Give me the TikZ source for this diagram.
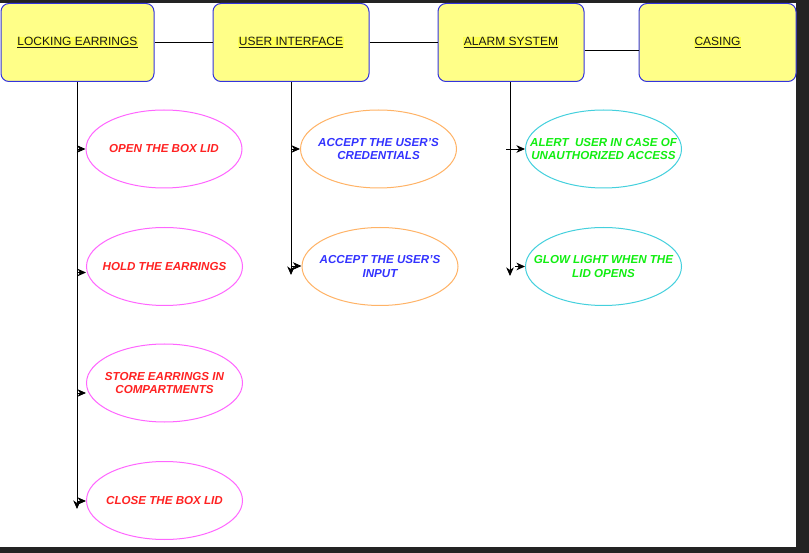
\documentclass[tikz,border=0pt]{standalone}
\usepackage{fontspec}
\setmainfont{Liberation Sans}
\usetikzlibrary{shapes.geometric,arrows.meta}
\definecolor{frame}{HTML}{232323}
\definecolor{boxfill}{HTML}{FFFF88}
\definecolor{boxline}{HTML}{3333DD}
\definecolor{hl}{HTML}{FFFF55}
\definecolor{pinkline}{HTML}{FF66FF}
\definecolor{redtext}{HTML}{FF2222}
\definecolor{orangeline}{HTML}{FFB366}
\definecolor{bluetext}{HTML}{3333FF}
\definecolor{cyanline}{HTML}{44D0DD}
\definecolor{greentext}{HTML}{11EE11}
\setlength{\fboxsep}{0.6pt}
\newcommand{\boxlabel}[1]{\colorbox{hl}{\underline{#1}}}
\tikzset{
  topbox/.style={draw=boxline, fill=boxfill, line width=1pt, rounded corners=8pt,
    minimum height=78pt, inner sep=0pt, text=black!90,
    font=\fontsize{12}{14}\selectfont},
  oval/.style={ellipse, line width=1pt, minimum width=156pt, minimum height=78pt,
    inner sep=0pt},
  ovaltext/.style={align=center, inner sep=0pt, font=\fontsize{11.6}{13.3}\selectfont\bfseries\itshape},
  pinkoval/.style={oval, draw=pinkline, label={[ovaltext, text=redtext]center:#1}},
  orangeoval/.style={oval, draw=orangeline, label={[ovaltext, text=bluetext]center:#1}},
  cyanoval/.style={oval, draw=cyanline, label={[ovaltext, text=greentext]center:#1}},
  link/.style={draw=black, line width=0.9pt},
  arr/.style={link, -{Stealth[length=8.5pt,width=7.5pt,inset=2.5pt]}}
}
\begin{document}
\begin{tikzpicture}[x=1pt,y=-1pt]
% screenshot frame
\fill[frame] (0,0) rectangle (809,553);
\fill[white] (0,3) rectangle (796,547);
\useasboundingbox (0,0) rectangle (809,553);

% top boxes
\node[topbox, minimum width=153pt] (LE) at (77.5,42.5) {\boxlabel{LOCKING EARRINGS}};
\node[topbox, minimum width=156pt] (UI) at (291,42.5) {\boxlabel{USER INTERFACE}};
\node[topbox, minimum width=146pt] (AS) at (511,42.5) {\boxlabel{ALARM SYSTEM}};
\node[topbox, minimum width=157pt] (CS) at (717.5,42.5) {\boxlabel{CASING}};

% links between top boxes
\draw[link] (LE.east) -- (UI.west);
\draw[link] (UI.east) -- (AS.west);
\draw[link] ([yshift=-7.5pt]AS.east) -- ([yshift=-7.5pt]CS.west);

% ellipses: locking earrings
\node[pinkoval={OPEN THE BOX LID}] (E1) at (164,149) {};
\node[pinkoval={HOLD THE EARRINGS}] (E2) at (164.5,266.5) {};
\node[pinkoval={STORE EARRINGS IN\\COMPARTMENTS}] (E3) at (164.5,383) {};
\node[pinkoval={CLOSE THE BOX LID}] (E4) at (164.5,500.5) {};

% ellipses: user interface
\node[orangeoval={ACCEPT THE USER'S\\CREDENTIALS}] (U1) at (378.5,149) {};
\node[orangeoval={ACCEPT THE USER'S\\INPUT}] (U2) at (380,266.5) {};

% ellipses: alarm system
\node[cyanoval={ALERT \ USER IN CASE OF\\UNAUTHORIZED ACCESS}] (A1) at (603.5,149) {};
\node[cyanoval={GLOW LIGHT WHEN THE\\LID OPENS}] (A2) at (603.5,266.5) {};

% trunk lines
\coordinate (LEend) at (77,509);
\coordinate (UIend) at (291,275);
\coordinate (ASend) at (510,276);
\draw[arr] (LE.south -| LEend) -- (LEend);
\draw[arr] (UI.south -| UIend) -- (UIend);
\draw[arr] (AS.south -| ASend) -- (ASend);

% branch arrows
\coordinate (l1) at (77,149);
\coordinate (l2) at (77,272.5);
\coordinate (l3) at (77,393);
\coordinate (l4) at (77,501);
\draw[arr] (l1) -- (l1 -| E1.west);
\draw[arr] (l2) -- (l2 -| E2.west);
\draw[arr] (l3) -- (l3 -| E3.west);
\draw[arr] (l4) -- (l4 -| E4.west);

\coordinate (u1) at (291,149);
\coordinate (u2) at (291,266);
\draw[arr] (u1) -- (u1 -| U1.west);
\draw[arr] (u2) -- (u2 -| U2.west);

\coordinate (s1) at (506,149);
\coordinate (s2) at (515,266.5);
\draw[arr] (s1) -- (s1 -| A1.west);
\draw[arr] (s2) -- (s2 -| A2.west);
\end{tikzpicture}
\end{document}
